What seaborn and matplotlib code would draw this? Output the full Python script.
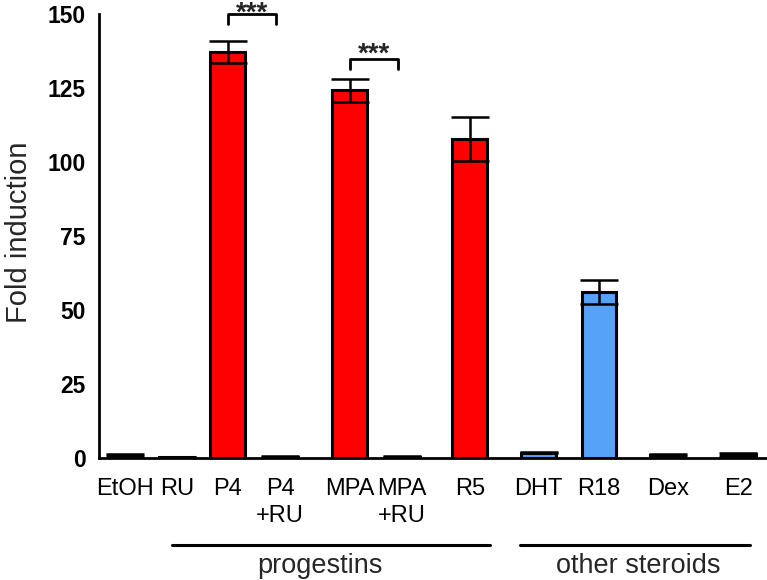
import matplotlib
matplotlib.use("Agg")
import matplotlib.pyplot as plt
import seaborn as sns
import pandas as pd
from matplotlib.transforms import blended_transform_factory

# ---- data ----
categories = ["EtOH", "RU", "P4", "P4\n+RU", "MPA", "MPA\n+RU", "R5", "DHT", "R18", "Dex", "E2"]
fold = [1.0, 0.4, 137.3, 0.5, 124.2, 0.5, 107.8, 1.8, 56.0, 1.0, 1.2]
sem = [0.3, 0.1, 3.7, 0.1, 3.9, 0.1, 7.3, 0.2, 4.0, 0.2, 0.4]
y_ticks = [0, 25, 50, 75, 100, 125, 150]
group_names = ["progestins", "other steroids"]

# ---- layout / style ----
x_pos = [0, 1.0, 1.99, 3.0, 4.35, 5.36, 6.67, 8.0, 9.17, 10.5, 11.86]
RED = "#FF0000"
BLUE = "#55A2F8"
colors = [RED, RED, RED, RED, RED, RED, RED, BLUE, BLUE, BLUE, BLUE]

sns.set_style("white")
plt.rcParams["font.family"] = ["Liberation Sans", "DejaVu Sans"]

W, H = 767, 580
fig = plt.figure(figsize=(W / 100, H / 100), dpi=100)
ax = fig.add_axes([99 / W, 1 - 458 / H, (W - 99) / W, (458 - 14) / H])

df = pd.DataFrame({"pos": x_pos, "fold": fold, "cat": categories})
sns.barplot(data=df, x="pos", y="fold", hue="cat", palette=colors, native_scale=True,
            dodge=False, width=0.68, saturation=1, edgecolor="black", linewidth=2.2,
            legend=False, errorbar=None, ax=ax, zorder=2)

ax.errorbar(x_pos, fold, yerr=sem, fmt="none", ecolor="black", elinewidth=1.8,
            capsize=14, capthick=1.8, zorder=3)

ax.set_xlim((99 - 125) / 51.7, (767 - 125) / 51.7)
ax.set_ylim(0, 150)
ax.set_yticks(y_ticks)
ax.set_yticklabels([str(t) for t in y_ticks], fontsize=16.5, fontweight="bold")
ax.set_xticks(x_pos)
ax.set_xticklabels(categories, fontsize=17, linespacing=1.3)
ax.set_xlabel("")
ax.set_ylabel("Fold induction", fontsize=21, va="center")
ax.yaxis.set_label_coords((19 - 99) / (W - 99), (458 - 232) / (458 - 14))

for s in ["top", "right"]:
    ax.spines[s].set_visible(False)
for s in ["left", "bottom"]:
    ax.spines[s].set_linewidth(2.0)
    ax.spines[s].set_color("black")
ax.tick_params(axis="both", which="both", direction="out", length=7.5, width=2.0,
               color="black", labelcolor="black")
ax.tick_params(axis="y", pad=2)
ax.tick_params(axis="x", pad=7)
ax.grid(False)

# significance brackets
def bracket(x1, x2, ytop, ylow, ystar, txt):
    ax.plot([x1, x1, x2, x2], [ylow, ytop, ytop, ylow], color="black", lw=2.0,
            clip_on=False, solid_joinstyle="round", solid_capstyle="round", zorder=4)
    ax.text((x1 + x2) / 2, ystar, txt, ha="center", va="baseline",
            fontsize=20, fontweight="bold", clip_on=False)

bracket(x_pos[2], x_pos[3] - 0.08, 150.0, 146.6, 147.9, "***")
bracket(x_pos[4], x_pos[5] - 0.08, 134.8, 131.4, 133.8, "***")

# group lines and labels
trans = blended_transform_factory(ax.transData, fig.transFigure)
group_lines = [(0.91, 7.06), (7.64, 12.09)]
group_text_x = [3.77, 9.92]
for (gx1, gx2), tx, name in zip(group_lines, group_text_x, group_names):
    ax.plot([gx1, gx2], [1 - 545 / H] * 2, color="black", lw=2.2,
            transform=trans, clip_on=False)
    ax.text(tx, 1 - 566 / H, name, ha="center", va="center",
            fontsize=19.5, transform=trans)

fig.savefig("out.png", dpi=100)
